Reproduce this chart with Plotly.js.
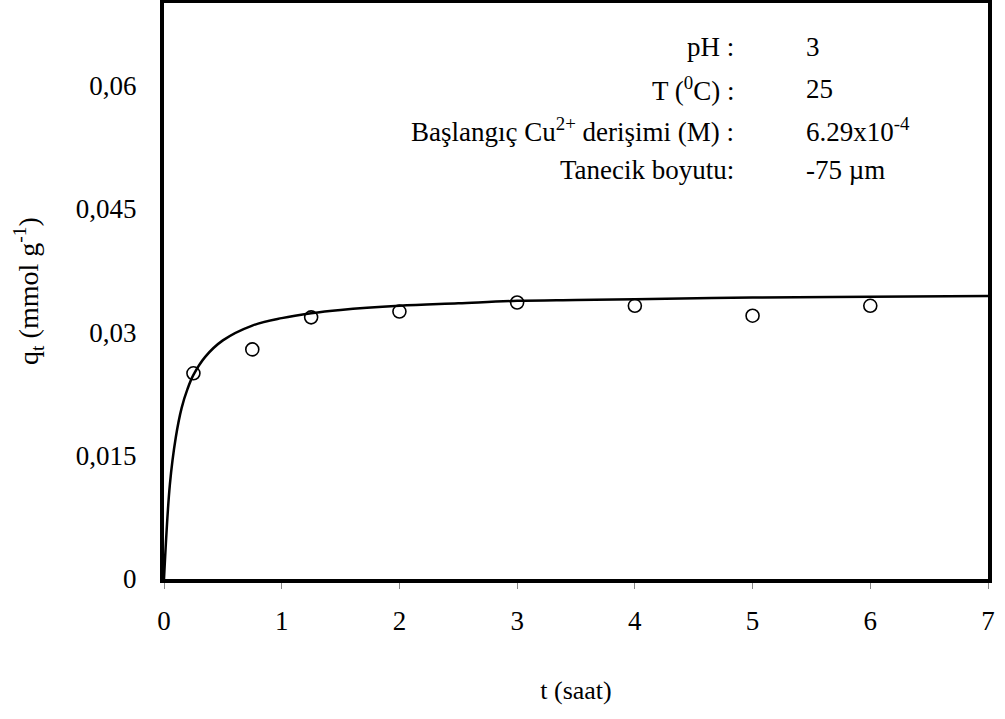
<!DOCTYPE html>
<html>
<head>
<meta charset="utf-8">
<script src="https://cdn.plot.ly/plotly-3.0.1.min.js"></script>
<style>html,body{margin:0;padding:0;background:#fff;}#chart{width:1005px;height:719px;}</style>
</head>
<body>
<div id="chart"></div>
<script>
// Measured data (open circles)
const tData = [0.25, 0.75, 1.25, 2, 3, 4, 5, 6];
const qData = [0.0250, 0.0279, 0.0318, 0.0325, 0.0336, 0.0332, 0.0320, 0.0332];

// Fitted curve
const tCurve = [0, 0.05, 0.1, 0.15, 0.2, 0.25, 0.35, 0.5, 0.75, 1, 1.25, 1.5, 2, 2.5, 3, 3.5, 4, 5, 6, 7];
const qCurve = [0, 0.0115, 0.0172, 0.0208, 0.0231, 0.0248, 0.0270, 0.0290, 0.0308, 0.0317, 0.0323, 0.0327, 0.0332, 0.0335, 0.0338, 0.0339, 0.0340, 0.0342, 0.0343, 0.0344];

// Axis ticks
const xTickVals = [0, 1, 2, 3, 4, 5, 6, 7];
const yTickVals = [0, 0.015, 0.03, 0.045, 0.06];
const yTickText = ["0", "0,015", "0,03", "0,045", "0,06"];

// Conditions box
const condLabels = ["pH :", "T (<sup>0</sup>C) :", "Başlangıç Cu<sup>2+</sup> derişimi (M) :", "Tanecik boyutu:"];
const condValues = ["3", "25", "6.29x10<sup>-4</sup>", "-75 µm"];

const FONT = 'Liberation Serif';
const condY = [0.924, 0.851, 0.780, 0.710];

const annotations = [];
condLabels.forEach((lab, i) => {
  annotations.push({xref: 'paper', yref: 'paper', x: 0.694, y: condY[i], text: lab, showarrow: false,
    xanchor: 'right', yanchor: 'middle', font: {family: FONT, size: 27, color: '#000'}});
  annotations.push({xref: 'paper', yref: 'paper', x: 0.777, y: condY[i], text: condValues[i], showarrow: false,
    xanchor: 'left', yanchor: 'middle', font: {family: FONT, size: 27, color: '#000'}});
});

const traces = [
  {x: tCurve, y: qCurve, mode: 'lines', line: {color: '#000', width: 2.5, shape: 'spline'}, hoverinfo: 'skip', showlegend: false},
  {x: tData, y: qData, mode: 'markers', marker: {symbol: 'circle-open', size: 13, color: '#000', line: {width: 1.6, color: '#000'}}, showlegend: false}
];

const layout = {
  width: 1005, height: 719,
  margin: {l: 164, r: 17, t: 3, b: 140},
  paper_bgcolor: '#fff', plot_bgcolor: '#fff',
  font: {family: FONT, size: 26, color: '#000'},
  showlegend: false,
  xaxis: {
    range: [0, 7], tickvals: xTickVals, ticks: 'outside', ticklen: 6, tickcolor: '#888', tickwidth: 1,
    showgrid: false, zeroline: false, showline: true, linecolor: '#000', linewidth: 4, mirror: true,
    tickfont: {family: FONT, size: 27, color: '#000'}, ticklabelstandoff: 9,
    title: {text: 't (saat)', font: {family: FONT, size: 26, color: '#000'}, standoff: 46}
  },
  yaxis: {
    range: [0, 0.07], tickvals: yTickVals, ticktext: yTickText, ticks: '',
    showgrid: false, zeroline: false, showline: true, linecolor: '#000', linewidth: 4, mirror: true,
    tickfont: {family: FONT, size: 27, color: '#000'}, ticklabelstandoff: 18,
    title: {text: 'q<sub>t</sub> (mmol g<sup>-1</sup>)', font: {family: FONT, size: 28, color: '#000'}, standoff: 30}
  },
  annotations: annotations
};

Plotly.newPlot('chart', traces, layout, {displayModeBar: false, staticPlot: true});
</script>
</body>
</html>
